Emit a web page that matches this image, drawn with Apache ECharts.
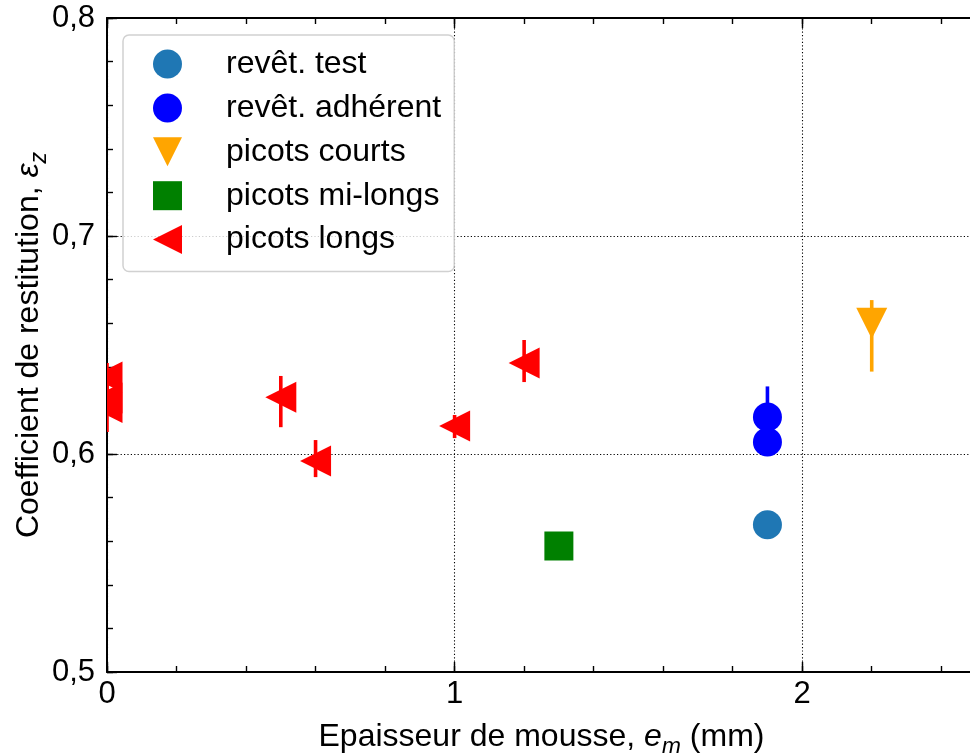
<!DOCTYPE html>
<html>
<head>
<meta charset="utf-8">
<script src="https://cdn.jsdelivr.net/npm/echarts@6/dist/echarts.min.js"></script>
<style>html,body{margin:0;padding:0;background:#fff}#c{width:970px;height:753px}</style>
</head>
<body>
<div id="c"></div>
<script>
// ---- data ----
const xTicks = [0, 1, 2];
const yTicks = [0.5, 0.6, 0.7, 0.8];

const testX = [1.9];
const testY = [0.5676];

const adhX = [1.9, 1.9];
const adhY = [0.617, 0.6055];
const adhLo = [0.603, 0.6055];
const adhHi = [0.631, 0.6055];

const courtsX = [2.2];
const courtsY = [0.66];
const courtsLo = [0.6378];
const courtsHi = [0.6706];

const milongsX = [1.3];
const milongsY = [0.5578];

const longsX = [0, 0, 0, 0.5, 0.6, 1.0, 1.2];
const longsY = [0.6353, 0.6257, 0.6213, 0.626, 0.5968, 0.6128, 0.6417];
const longsLo = [0.629, 0.620, 0.6101, 0.6123, 0.5894, 0.6073, 0.633];
const longsHi = [0.6417, 0.632, 0.632, 0.6358, 0.6064, 0.6179, 0.6523];

const names = ['revêt. test', 'revêt. adhérent', 'picots courts', 'picots mi-longs', 'picots longs'];
const colors = ['#1f77b4', '#0000ff', '#ffa500', '#008000', '#ff0000'];

const FONT = 'Liberation Sans, Arial, sans-serif';

function rows(xs, ys, lo, hi) {
  return xs.map((x, i) => [x, ys[i], lo ? lo[i] : ys[i], hi ? hi[i] : ys[i]]);
}

function makeRender(shape, color) {
  return function (params, api) {
    const x = api.value(0), y = api.value(1), lo = api.value(2), hi = api.value(3);
    const p = api.coord([x, y]);
    const children = [];
    if (lo !== hi) {
      const a = api.coord([x, lo]), b = api.coord([x, hi]);
      children.push({ type: 'line', shape: { x1: a[0], y1: a[1], x2: b[0], y2: b[1] },
        style: { stroke: color, lineWidth: 3.6 } });
    }
    const h = 15.5;
    if (shape === 'circle') {
      children.push({ type: 'circle', shape: { cx: p[0], cy: p[1], r: 14.5 }, style: { fill: color } });
    } else if (shape === 'square') {
      children.push({ type: 'rect', shape: { x: p[0] - 14.5, y: p[1] - 14.5, width: 29, height: 29 }, style: { fill: color } });
    } else if (shape === 'down') {
      children.push({ type: 'polygon', shape: { points: [[p[0] - h, p[1] - h], [p[0] + h, p[1] - h], [p[0], p[1] + h]] }, style: { fill: color } });
    } else if (shape === 'left') {
      children.push({ type: 'polygon', shape: { points: [[p[0] - h, p[1]], [p[0] + h, p[1] - h], [p[0] + h, p[1] + h]] }, style: { fill: color } });
    }
    return { type: 'group', children: children };
  };
}

function series(name, data, shape, color) {
  return {
    type: 'custom', name: name, xAxisIndex: 0, yAxisIndex: 0, clip: true,
    itemStyle: { color: color },
    renderItem: makeRender(shape, color),
    data: data, z: 5
  };
}

const chart = echarts.init(document.getElementById('c'), null, { renderer: 'canvas' });

const axLine = { show: true, onZero: false, lineStyle: { color: '#000', width: 2 } };
const noLine = { show: false };
const dotted = { show: true, lineStyle: { color: '#000', width: 1.1, type: [1.2, 2.2] } };

function xAx(pos, interval, len, opts) {
  return Object.assign({
    type: 'value', min: 0, max: 2.5, interval: interval, position: pos, gridIndex: 0,
    axisLine: noLine,
    axisTick: { show: true, inside: true, length: len, lineStyle: { color: '#000', width: 1.4 } },
    axisLabel: { show: false },
    splitLine: { show: false }
  }, opts || {});
}
function yAx(pos, interval, len, opts) {
  return Object.assign({
    type: 'value', min: 0.5, max: 0.8, interval: interval, position: pos, gridIndex: 0,
    axisLine: noLine,
    axisTick: { show: true, inside: true, length: len, lineStyle: { color: '#000', width: 1.4 } },
    axisLabel: { show: false },
    splitLine: { show: false }
  }, opts || {});
}

const nameRich = {
  n: { fontSize: 32, fontFamily: FONT, color: '#000', lineHeight: 44, verticalAlign: 'middle' },
  i: { fontSize: 32, fontFamily: FONT, fontStyle: 'italic', color: '#000', lineHeight: 44, verticalAlign: 'middle' },
  s: { fontSize: 23, fontFamily: FONT, fontStyle: 'italic', color: '#000', lineHeight: 14, verticalAlign: 'bottom' }
};

const option = {
  animation: false,
  backgroundColor: '#fff',
  grid: { left: 107, top: 18, width: 869, height: 654, containLabel: false, outerBoundsMode: 'none' },
  xAxis: [
    xAx('bottom', 1, 10, {
      axisLine: axLine,
      axisLabel: { show: true, color: '#000', fontSize: 31, fontFamily: FONT, margin: 7,
        showMaxLabel: false, formatter: v => xTicks.indexOf(v) >= 0 ? String(v) : '' },
      splitLine: dotted,
      name: '{n|Epaisseur de mousse, }{i|e}{s|m}{n| (mm)}',
      nameLocation: 'middle', nameGap: 43, nameMoveOverlap: false,
      nameTextStyle: { rich: nameRich, fontSize: 32, fontFamily: FONT, color: '#000' }
    }),
    xAx('bottom', 0.2, 6),
    xAx('top', 1, 10, { axisLine: axLine }),
    xAx('top', 0.2, 6)
  ],
  yAxis: [
    yAx('left', 0.1, 10, {
      axisLine: axLine,
      axisLabel: { show: true, color: '#000', fontSize: 31, fontFamily: FONT, margin: 12,
        formatter: v => {
          const r = Math.round(v * 10) / 10;
          return yTicks.indexOf(r) >= 0 ? r.toFixed(1).replace('.', ',') : '';
        } },
      splitLine: dotted,
      name: '{n|Coefficient de restitution, }{i|ε}{s|z}',
      nameLocation: 'middle', nameGap: 56, nameMoveOverlap: false,
      nameTextStyle: { rich: nameRich, fontSize: 32, fontFamily: FONT, color: '#000' }
    }),
    yAx('left', 0.02, 6)
  ],
  legend: {
    orient: 'vertical', left: 123, top: 35,
    backgroundColor: 'rgba(255,255,255,0.8)',
    borderColor: 'rgba(204,204,204,0.9)', borderWidth: 1.5, borderRadius: 6,
    padding: [13, 13, 16, 30],
    itemWidth: 29, itemHeight: 29, itemGap: 11.9,
    textStyle: { fontSize: 32, fontFamily: FONT, color: '#000', lineHeight: 29, padding: [0, 0, 0, 39] },
    selectedMode: false,
    data: [
      { name: names[0], icon: 'circle' },
      { name: names[1], icon: 'circle' },
      { name: names[2], icon: 'path://M0,0L2,0L1,2Z' },
      { name: names[3], icon: 'rect' },
      { name: names[4], icon: 'path://M0,1L2,0L2,2Z' }
    ]
  },
  series: [
    series(names[0], rows(testX, testY), 'circle', colors[0]),
    series(names[1], rows(adhX, adhY, adhLo, adhHi), 'circle', colors[1]),
    series(names[2], rows(courtsX, courtsY, courtsLo, courtsHi), 'down', colors[2]),
    series(names[3], rows(milongsX, milongsY), 'square', colors[3]),
    series(names[4], rows(longsX, longsY, longsLo, longsHi), 'left', colors[4])
  ]
};
chart.setOption(option);
</script>
</body>
</html>
